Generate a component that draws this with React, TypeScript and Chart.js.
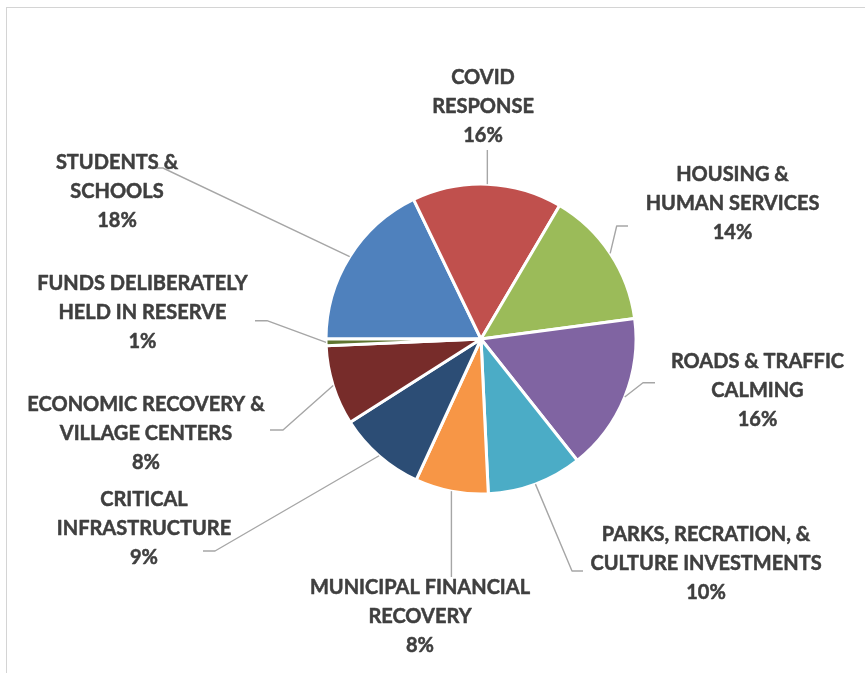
import React, { useEffect, useRef } from "react";
import { Chart, ArcElement, PieController } from "chart.js";

Chart.register(ArcElement, PieController);

// ---- data ----
const CATEGORIES: string[] = [
  "STUDENTS &\nSCHOOLS",
  "COVID\nRESPONSE",
  "HOUSING &\nHUMAN SERVICES",
  "ROADS & TRAFFIC\nCALMING",
  "PARKS, RECRATION, &\nCULTURE INVESTMENTS",
  "MUNICIPAL FINANCIAL\nRECOVERY",
  "CRITICAL\nINFRASTRUCTURE",
  "ECONOMIC RECOVERY &\nVILLAGE CENTERS",
  "FUNDS DELIBERATELY\nHELD IN RESERVE",
];
const SHARES: number[] = [17.8, 15.6, 14.4, 16.4, 9.9, 7.6, 9.1, 8.3, 0.7];
const COLORS: string[] = [
  "#4F81BD",
  "#C0504D",
  "#9BBB59",
  "#8064A2",
  "#4BACC6",
  "#F79646",
  "#2C4D75",
  "#772C2A",
  "#5F7530",
];

// ---- label layout (relative to pie centre, px) ----
type LabelLayout = {
  dx: number;
  dy: number;
  path?: [number, number][];
  vertical?: number;
};
const LABEL_LAYOUT: LabelLayout[] = [
  { dx: -364, dy: -147, path: [[-318, -171], [-329, -171]] },
  { dx: 2, dy: -232, vertical: -189 },
  { dx: 251.5, dy: -135, path: [[135.7, -113], [147, -113]] },
  { dx: 276.5, dy: 51.5, path: [[162, 43.7], [174, 43.7]] },
  { dx: 225, dy: 225, path: [[91, 232], [102, 232]] },
  { dx: -61, dy: 278, vertical: 238 },
  { dx: -337, dy: 190, path: [[-266, 212], [-278, 212]] },
  { dx: -335, dy: 94.5, path: [[-198, 91], [-211, 91]] },
  { dx: -338.5, dy: -26, path: [[-214, -18.3], [-226, -18.3]] },
];

const FONT_SIZE = 20;
const LINE_H = 29;
const TEXT_COLOR = "#3F3F3F";
const LEADER_COLOR = "#A6A6A6";

const outsideLabels = {
  id: "outsideLabels",
  afterDatasetsDraw(chart: any) {
    const ctx: CanvasRenderingContext2D = chart.ctx;
    const meta = chart.getDatasetMeta(0);
    const data: number[] = chart.data.datasets[0].data;
    const total = data.reduce((a, b) => a + b, 0);
    ctx.save();
    meta.data.forEach((arc: any, i: number) => {
      const { x, y, startAngle, endAngle, outerRadius } = arc.getProps(
        ["x", "y", "startAngle", "endAngle", "outerRadius"],
        true
      );
      const mid = (startAngle + endAngle) / 2;
      const ex = x + Math.cos(mid) * outerRadius;
      const ey = y + Math.sin(mid) * outerRadius;
      const lay = LABEL_LAYOUT[i];
      // leader line
      ctx.beginPath();
      ctx.strokeStyle = LEADER_COLOR;
      ctx.lineWidth = 1.4;
      ctx.moveTo(ex, ey);
      if (lay.vertical !== undefined) {
        ctx.lineTo(ex, y + lay.vertical);
      } else if (lay.path) {
        lay.path.forEach(([px, py]) => ctx.lineTo(x + px, y + py));
      }
      ctx.stroke();
      // text
      const lines = [
        ...(chart.data.labels[i] as string).split("\n"),
        Math.round((data[i] / total) * 100) + "%",
      ];
      ctx.fillStyle = TEXT_COLOR;
      ctx.strokeStyle = TEXT_COLOR;
      ctx.lineWidth = 0.5;
      ctx.lineJoin = "round";
      ctx.font = `bold ${FONT_SIZE}px Lato, "Open Sans", sans-serif`;
      ctx.textAlign = "center";
      ctx.textBaseline = "middle";
      const cx = x + lay.dx;
      const cy = y + lay.dy;
      const y0 = cy - ((lines.length - 1) * LINE_H) / 2;
      lines.forEach((t, k) => {
        ctx.fillText(t, cx, y0 + k * LINE_H);
        ctx.strokeText(t, cx, y0 + k * LINE_H);
      });
    });
    ctx.restore();
  },
};

export default function App() {
  const ref = useRef<HTMLCanvasElement | null>(null);
  useEffect(() => {
    if (!ref.current) return;
    const chart = new Chart(ref.current, {
      type: "pie",
      data: {
        labels: CATEGORIES,
        datasets: [
          {
            data: SHARES,
            backgroundColor: COLORS,
            borderColor: "#FFFFFF",
            borderWidth: 3,
            radius: 155,
            rotation: 270,
          } as any,
        ],
      },
      options: {
        responsive: false,
        animation: false,
        rotation: 270,
        layout: { padding: { left: 97, top: 5, right: 0, bottom: 0 } },
        plugins: { legend: { display: false }, tooltip: { enabled: false } },
      } as any,
      plugins: [outsideLabels],
    });
    return () => chart.destroy();
  }, []);
  return (
    <div
      style={{
        position: "fixed",
        left: 0,
        top: 0,
        width: 865,
        height: 673,
        overflow: "hidden",
        background: "#FFFFFF",
      }}
    >
      <div
        style={{
          position: "absolute",
          left: 6,
          top: 7,
          width: 1000,
          height: 1000,
          border: "1px solid #D4D4D4",
        }}
      />
      <canvas
        ref={ref}
        width={865}
        height={673}
        style={{ position: "absolute", left: 0, top: 0, width: 865, height: 673 }}
      />
    </div>
  );
}
